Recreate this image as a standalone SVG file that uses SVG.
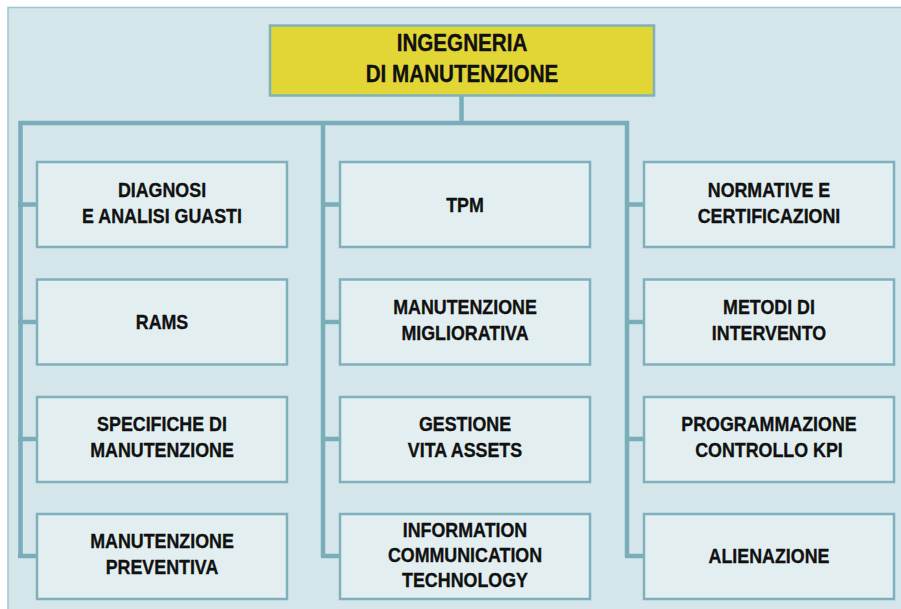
<svg xmlns="http://www.w3.org/2000/svg" width="901" height="609" viewBox="0 0 901 609">
<style>
.node{fill:#e2eef0;stroke:#7fb1bd;stroke-width:2.5}
.t{font-family:"Liberation Sans",Arial,sans-serif;font-weight:bold;font-size:21px;fill:#111;stroke:#111;stroke-width:0.35;text-anchor:middle}
.tt{font-size:24px}
.c{fill:none;stroke:#78adb9;stroke-width:4.5}
</style>
<rect x="0" y="0" width="901" height="609" fill="#ffffff"/>
<rect x="8" y="7.5" width="900" height="610" fill="#d5e6ea" stroke="#9cc5cf" stroke-width="1.5"/>
<g id="connectors">
<line class="c" x1="461.5" y1="96" x2="461.5" y2="123"/>
<polyline class="c" points="20.5,557 20.5,123 627,123 627,557"/>
<line class="c" x1="323" y1="123" x2="323" y2="557"/>
<line class="c" x1="18" y1="204.5" x2="37" y2="204.5"/>
<line class="c" x1="18" y1="322" x2="37" y2="322"/>
<line class="c" x1="18" y1="439" x2="37" y2="439"/>
<line class="c" x1="18" y1="556" x2="37" y2="556"/>
<line class="c" x1="321" y1="204.5" x2="340" y2="204.5"/>
<line class="c" x1="321" y1="322" x2="340" y2="322"/>
<line class="c" x1="321" y1="439" x2="340" y2="439"/>
<line class="c" x1="321" y1="556" x2="340" y2="556"/>
<line class="c" x1="625" y1="204.5" x2="644" y2="204.5"/>
<line class="c" x1="625" y1="322" x2="644" y2="322"/>
<line class="c" x1="625" y1="439" x2="644" y2="439"/>
<line class="c" x1="625" y1="556" x2="644" y2="556"/>
</g>
<g id="root">
<rect x="270" y="25.5" width="384" height="70" fill="#e2d636" stroke="#7fb1bd" stroke-width="2.5"/>
<g transform="translate(462 0) scale(0.86 1)"><text class="t tt" x="0" y="51">INGEGNERIA</text><text class="t tt" x="0" y="82">DI MANUTENZIONE</text></g>
</g>
<g id="n1"><rect class="node" x="37" y="162" width="250" height="85"/><g transform="translate(162 0) scale(0.85 1)"><text class="t" x="0" y="197">DIAGNOSI</text><text class="t" x="0" y="223">E ANALISI GUASTI</text></g></g>
<g id="n2"><rect class="node" x="37" y="279.5" width="250" height="85"/><g transform="translate(162 0) scale(0.85 1)"><text class="t" x="0" y="329.5">RAMS</text></g></g>
<g id="n3"><rect class="node" x="37" y="397" width="250" height="85"/><g transform="translate(162 0) scale(0.85 1)"><text class="t" x="0" y="431.5">SPECIFICHE DI</text><text class="t" x="0" y="457.5">MANUTENZIONE</text></g></g>
<g id="n4"><rect class="node" x="37" y="514" width="250" height="85"/><g transform="translate(162 0) scale(0.85 1)"><text class="t" x="0" y="548.5">MANUTENZIONE</text><text class="t" x="0" y="574.5">PREVENTIVA</text></g></g>
<g id="n5"><rect class="node" x="340" y="162" width="250" height="85"/><g transform="translate(465 0) scale(0.85 1)"><text class="t" x="0" y="212">TPM</text></g></g>
<g id="n6"><rect class="node" x="340" y="279.5" width="250" height="85"/><g transform="translate(465 0) scale(0.85 1)"><text class="t" x="0" y="314.5">MANUTENZIONE</text><text class="t" x="0" y="340.5">MIGLIORATIVA</text></g></g>
<g id="n7"><rect class="node" x="340" y="397" width="250" height="85"/><g transform="translate(465 0) scale(0.85 1)"><text class="t" x="0" y="431.5">GESTIONE</text><text class="t" x="0" y="457.5">VITA ASSETS</text></g></g>
<g id="n8"><rect class="node" x="340" y="514" width="250" height="85"/><g transform="translate(465 0) scale(0.85 1)"><text class="t" x="0" y="537">INFORMATION</text><text class="t" x="0" y="562">COMMUNICATION</text><text class="t" x="0" y="587">TECHNOLOGY</text></g></g>
<g id="n9"><rect class="node" x="644" y="162" width="250" height="85"/><g transform="translate(769 0) scale(0.85 1)"><text class="t" x="0" y="197">NORMATIVE E</text><text class="t" x="0" y="223">CERTIFICAZIONI</text></g></g>
<g id="n10"><rect class="node" x="644" y="279.5" width="250" height="85"/><g transform="translate(769 0) scale(0.85 1)"><text class="t" x="0" y="314.5">METODI DI</text><text class="t" x="0" y="340.5">INTERVENTO</text></g></g>
<g id="n11"><rect class="node" x="644" y="397" width="250" height="85"/><g transform="translate(769 0) scale(0.85 1)"><text class="t" x="0" y="431.5">PROGRAMMAZIONE</text><text class="t" x="0" y="457.5">CONTROLLO KPI</text></g></g>
<g id="n12"><rect class="node" x="644" y="514" width="250" height="85"/><g transform="translate(769 0) scale(0.85 1)"><text class="t" x="0" y="563.5">ALIENAZIONE</text></g></g>
</svg>
